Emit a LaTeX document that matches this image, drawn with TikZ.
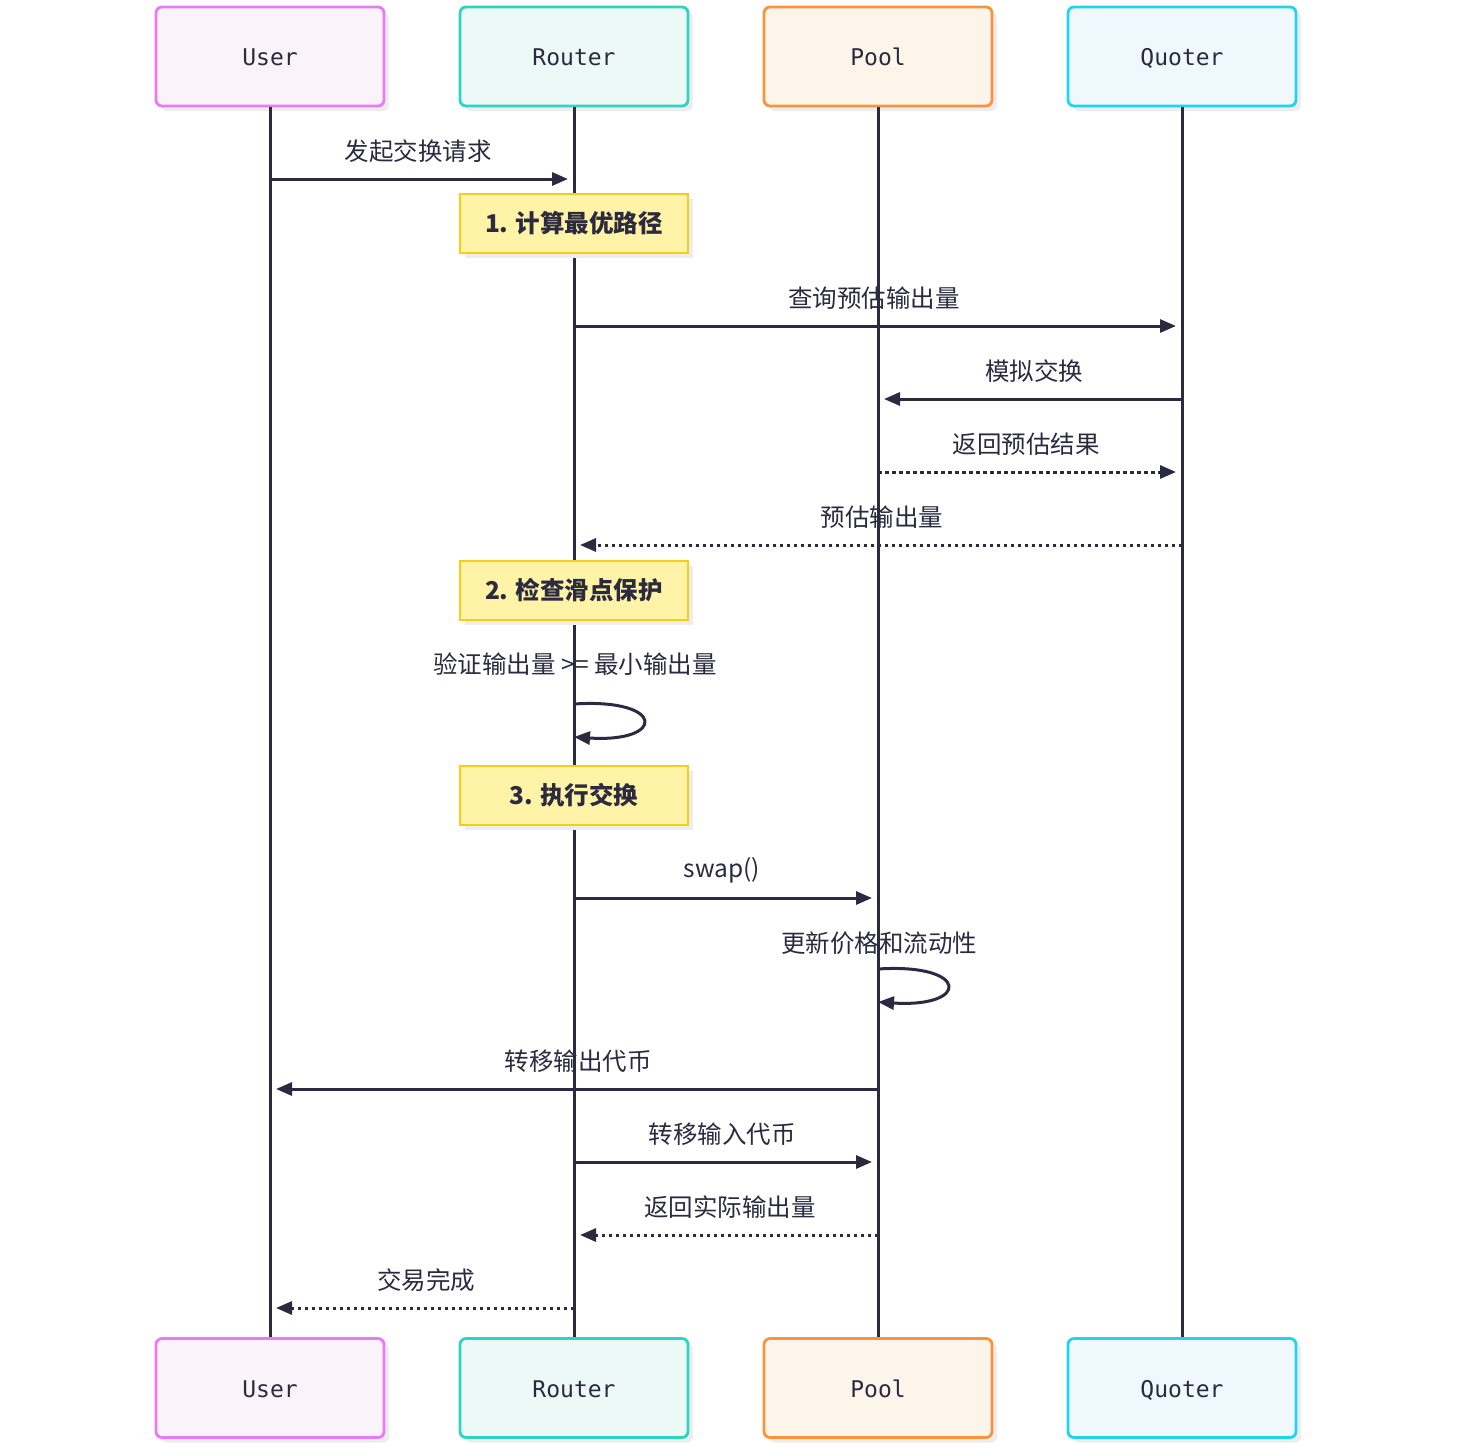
\documentclass[tikz,border=0pt]{standalone}
\usepackage{fontspec}
\setmainfont{Noto Sans CJK SC}
\newfontfamily\actorfont{DejaVu Sans Mono}
\usepackage{xcolor}
\usepackage{tikz}
\usetikzlibrary{arrows.meta,positioning,shadows,calc}
\definecolor{SeqInk}{HTML}{2B2A3F}
\definecolor{UserLine}{HTML}{E879F9}
\definecolor{UserFill}{HTML}{FAF4FA}
\definecolor{RouterLine}{HTML}{2DD4BF}
\definecolor{RouterFill}{HTML}{ECF9F7}
\definecolor{PoolLine}{HTML}{FB923C}
\definecolor{PoolFill}{HTML}{FDF5EA}
\definecolor{QuoterLine}{HTML}{22D3EE}
\definecolor{QuoterFill}{HTML}{EEF8FD}
\definecolor{NoteLine}{HTML}{FACC15}
\definecolor{NoteFill}{HTML}{FEF3A6}

\begin{document}
\begin{tikzpicture}[
  x=1pt,
  y=-1pt,
  every node/.style={font=\fontsize{24.5}{28}\selectfont, text=SeqInk},
  actor/.style={rounded corners=6pt, line width=2.8pt, minimum width=228pt,
    minimum height=99pt, text height=20pt, text depth=2pt,
    font=\actorfont\fontsize{23}{27}\selectfont,
    drop shadow={shadow xshift=5pt, shadow yshift=-5pt, fill=black!7, opacity=1}},
  notebox/.style={draw=NoteLine, fill=NoteFill, line width=2.5pt, minimum width=228pt,
    minimum height=59pt, font=\bfseries\fontsize{24.5}{28}\selectfont,
    drop shadow={shadow xshift=5pt, shadow yshift=-5pt, fill=black!7, opacity=1}},
  lifeline/.style={SeqInk, line width=3pt},
  msg/.style={SeqInk, line width=3pt, -{Triangle[length=16pt,width=13pt]}, shorten >=6pt},
  reply/.style={msg, dash pattern=on 3.5pt off 3.5pt},
  selfmsg/.style={msg, shorten >=0pt},
  msglabel/.style={yshift=28pt}
]
\useasboundingbox (0,0) rectangle (1470,1454);

% actors
\node[actor, draw=UserLine, fill=UserFill] (user) at (270,56.5) {User};
\node[actor, draw=RouterLine, fill=RouterFill] (router) at (574,56.5) {Router};
\node[actor, draw=PoolLine, fill=PoolFill] (pool) at (878,56.5) {Pool};
\node[actor, draw=QuoterLine, fill=QuoterFill] (quoter) at (1182,56.5) {Quoter};

\node[actor, draw=UserLine, fill=UserFill] (userB) at (270,1388) {User};
\node[actor, draw=RouterLine, fill=RouterFill] (routerB) at (574,1388) {Router};
\node[actor, draw=PoolLine, fill=PoolFill] (poolB) at (878,1388) {Pool};
\node[actor, draw=QuoterLine, fill=QuoterFill] (quoterB) at (1182,1388) {Quoter};

\draw[lifeline] (user) -- (userB);
\draw[lifeline] (router) -- (routerB);
\draw[lifeline] (pool) -- (poolB);
\draw[lifeline] (quoter) -- (quoterB);

% messages
\draw[msg] (user.south |- 0,179) -- (router.south |- 0,179)
  node[midway, msglabel, xshift=-4pt] {发起交换请求};
\node[notebox] (note1) at (574,223.5) {1. 计算最优路径};

\draw[msg] (router.south |- 0,326) -- (quoter.south |- 0,326)
  node[midway, msglabel, xshift=-4pt] {查询预估输出量};
\draw[msg] (quoter.south |- 0,399) -- (pool.south |- 0,399)
  node[midway, msglabel, xshift=4pt] {模拟交换};
\draw[reply] (pool.south |- 0,472) -- (quoter.south |- 0,472)
  node[midway, msglabel, xshift=-4pt] {返回预估结果};
\draw[reply] (quoter.south |- 0,545) -- (router.south |- 0,545)
  node[midway, msglabel, xshift=4pt] {预估输出量};
\node[notebox] (note2) at (574,590.5) {2. 检查滑点保护};

\node (check) at (575,664) {验证输出量 >= 最小输出量};
\draw[selfmsg] (router.south |- 0,704) .. controls +(92,-6) and +(92,6) .. (router.south |- 0,737);
\node[notebox] (note3) at (574,795.5) {3. 执行交换};

\draw[msg] (router.south |- 0,898) -- (pool.south |- 0,898)
  node[midway, msglabel, xshift=-4pt] {swap()};
\node (update) at (879,943) {更新价格和流动性};
\draw[selfmsg] (pool.south |- 0,969) .. controls +(92,-6) and +(92,6) .. (pool.south |- 0,1002);

\draw[msg] (pool.south |- 0,1089) -- (user.south |- 0,1089)
  node[midway, msglabel, xshift=4pt] {转移输出代币};
\draw[msg] (router.south |- 0,1162) -- (pool.south |- 0,1162)
  node[midway, msglabel, xshift=-4pt] {转移输入代币};
\draw[reply] (pool.south |- 0,1235) -- (router.south |- 0,1235)
  node[midway, msglabel, xshift=4pt] {返回实际输出量};
\draw[reply] (router.south |- 0,1308) -- (user.south |- 0,1308)
  node[midway, msglabel, xshift=4pt] {交易完成};
\end{tikzpicture}
\end{document}
